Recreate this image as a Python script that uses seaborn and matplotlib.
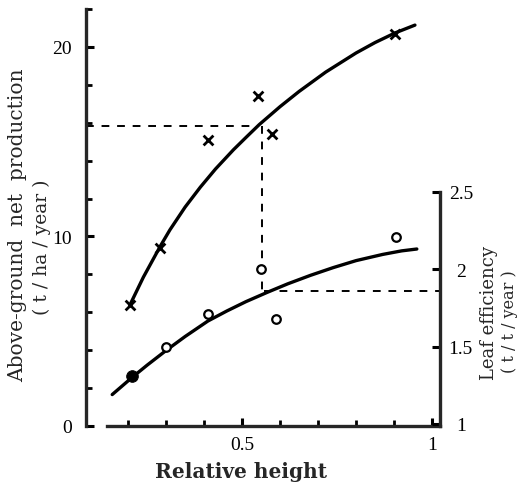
import numpy as np
import pandas as pd
import seaborn as sns
import matplotlib.pyplot as plt
from matplotlib.ticker import FixedLocator

# ---------------- data ----------------
# Above-ground net production (t/ha/year) vs relative height: observed points (x marks)
prod_height = [0.205, 0.285, 0.41, 0.542, 0.58, 0.903]
prod_value = [6.4, 9.4, 15.1, 17.4, 15.4, 20.7]
# fitted curve for production
prod_curve_height = [0.205, 0.24, 0.285, 0.31, 0.35, 0.39, 0.43, 0.477, 0.51, 0.545,
                     0.60, 0.65, 0.72, 0.80, 0.85, 0.903, 0.955]
prod_curve_value = [6.4, 7.85, 9.5, 10.35, 11.55, 12.6, 13.56, 14.57, 15.22, 15.9,
                    16.85, 17.65, 18.67, 19.68, 20.23, 20.74, 21.15]

# Leaf efficiency (t/t/year) vs relative height: observed points (open circles)
eff_height = [0.30, 0.41, 0.55, 0.59, 0.905]
eff_value = [1.50, 1.71, 2.00, 1.68, 2.21]
# the filled circle
eff_filled_height = [0.21]
eff_filled_value = [1.31]
# fitted curve for efficiency
eff_curve_height = [0.158, 0.21, 0.25, 0.30, 0.35, 0.41, 0.46, 0.51, 0.566, 0.62,
                    0.68, 0.74, 0.80, 0.87, 0.92, 0.96]
eff_curve_value = [1.19, 1.30, 1.38, 1.475, 1.565, 1.665, 1.73, 1.79, 1.85, 1.905,
                   1.96, 2.01, 2.055, 2.095, 2.118, 2.13]

# dashed guide lines
guide_height = 0.553
guide_prod = 15.85
guide_eff = 1.86

# ticks
x_major = [0.5, 1.0]
x_major_labels = ["0.5", "1"]
x_minor = [0.2, 0.3, 0.4, 0.6, 0.7, 0.8, 0.9]
left_major = [0, 10, 20]
left_minor = [2, 4, 6, 8, 12, 14, 16, 18, 22]
right_major = [1, 1.5, 2, 2.5]
right_labels = ["1", "1.5", "2", "2.5"]

# ---------------- figure ----------------
sns.set_style("white")
plt.rcParams["font.family"] = ["DejaVu Serif"]

W, H = 518, 489
fig = plt.figure(figsize=(W / 100, H / 100), dpi=100)

def fx(px):
    return px / W

def fy(py):
    return 1 - py / H

ax = fig.add_axes([fx(86), fy(427), fx(440) - fx(86), fy(10) - fy(427)])
ax.set_facecolor("none")
ax.set_xlim(0.089, 1.021)
ax.set_ylim(0, 22)

ax2 = ax.twinx()
ax2.set_ylim(0.987, 3.68)

# production curve and points
sns.lineplot(x=prod_curve_height, y=prod_curve_value, ax=ax, color="black",
             lw=2.4, sort=False, estimator=None)
sns.scatterplot(x=prod_height, y=prod_value, ax=ax, marker="x", s=50,
                color="black", linewidth=2.0)

# efficiency curve and points
sns.lineplot(x=eff_curve_height, y=eff_curve_value, ax=ax2, color="black",
             lw=2.4, sort=False, estimator=None)
sns.scatterplot(x=eff_height, y=eff_value, ax=ax2, marker="o", s=38,
                facecolor="white", edgecolor="black", linewidth=1.6, zorder=4)
sns.scatterplot(x=eff_filled_height, y=eff_filled_value, ax=ax2, marker="o", s=70,
                color="black", edgecolor="black", zorder=4)

# dashed guides
dash = dict(color="black", lw=1.4, ls=(0, (4, 4)))
ax.plot([0.089, guide_height - 0.008], [guide_prod, guide_prod], **dash)
eff_in_left = (guide_eff - 0.987) / (3.68 - 0.987) * 22
ax.plot([guide_height, guide_height], [guide_prod, eff_in_left], **dash)
ax2.plot([guide_height + 0.005, 1.021], [guide_eff, guide_eff], **dash)

# spines
for s in ["top", "right"]:
    ax.spines[s].set_visible(False)
for s in ["top", "left", "bottom"]:
    ax2.spines[s].set_visible(False)
ax.spines["left"].set_linewidth(2.4)
ax.spines["bottom"].set_linewidth(2.4)
ax.spines["bottom"].set_bounds(0.145, 1.021)
ax2.spines["right"].set_linewidth(2.4)
ax2.spines["right"].set_bounds(0.987, 2.5)

# ticks
ax.xaxis.set_major_locator(FixedLocator(x_major))
ax.set_xticklabels(x_major_labels)
ax.xaxis.set_minor_locator(FixedLocator(x_minor))
ax.yaxis.set_major_locator(FixedLocator(left_major))
ax.set_yticklabels([str(v) for v in left_major])
ax.yaxis.set_minor_locator(FixedLocator(left_minor))
ax.tick_params(axis="both", which="major", direction="in", length=6, width=2.2,
               colors="black", labelsize=14)
ax.tick_params(axis="both", which="minor", direction="in", length=4, width=2.0,
               colors="black")
ax.tick_params(axis="x", which="major", pad=7)
ax.tick_params(axis="y", which="major", pad=10)
ax.tick_params(left=True, bottom=True, which="both")
for t in ax.get_xticklabels() + ax.get_yticklabels():
    t.set_fontfamily("Liberation Serif")

ax2.yaxis.set_major_locator(FixedLocator(right_major))
ax2.set_yticklabels(right_labels)
ax2.tick_params(axis="y", which="major", direction="in", length=6, width=2.2,
                colors="black", labelsize=14, pad=15, right=True)
for t in ax2.get_yticklabels():
    t.set_fontfamily("Liberation Serif")
    t.set_horizontalalignment("center")

ax.set_xlabel("")
ax.set_ylabel("")
ax2.set_ylabel("")

# axis titles
fig.text(fx(241), fy(472), "Relative height", ha="center", va="center",
         fontsize=14.5, fontweight="bold")
fig.text(fx(18), fy(225), "Above-ground  net  production", rotation=90,
         ha="center", va="center", fontsize=14.5)
fig.text(fx(42), fy(247), "( t / ha / year )", rotation=90,
         ha="center", va="center", fontsize=13.5)
fig.text(fx(489), fy(313), "Leaf efficiency", rotation=90,
         ha="center", va="center", fontsize=13)
fig.text(fx(509), fy(322), "( t / t / year )", rotation=90,
         ha="center", va="center", fontsize=11.5)

fig.savefig("out.png", dpi=100)
